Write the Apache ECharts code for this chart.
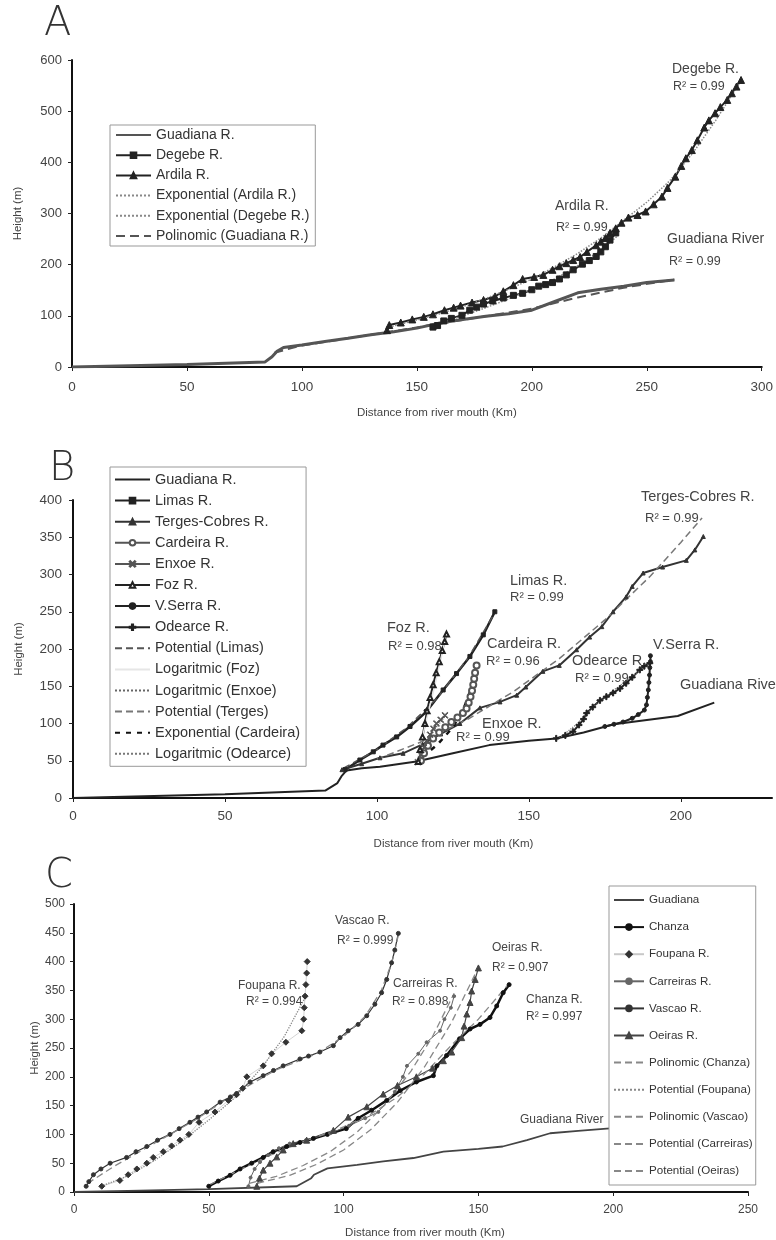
<!DOCTYPE html>
<html><head><meta charset="utf-8">
<script src="https://cdn.jsdelivr.net/npm/echarts@6/dist/echarts.min.js"></script>
<style>html,body{margin:0;padding:0;background:#fff}#c{width:776px;height:1240px}</style>
</head><body><div id="c"></div>
<script>
// ---------- Panel A data [km, m] ----------
const aGuadiana = [[0,0],[20,2],[50,5],[84,10],[87,20],[89,30],[92,38],[100,43],[110,50],[120,56],[130,63],[140,69],[150,76],[160,86],[170,93],[180,99],[190,104],[200,111],[210,128],[220,145],[230,152],[240,158],[250,165],[262,170]];
const aDegebe = [[157,78],[159,81],[161.7,90],[165,95],[169.6,101],[173,111],[176,117],[179,123],[183,129],[187.6,135],[192,140],[196,144],[200,151],[203,158],[206,161],[209,165],[212,172],[215,180],[218,190],[222,201],[225,208],[228,216],[230,225],[232,235],[234,248],[236.5,262]];
const aArdila = [[137,72],[138,82],[143,87],[148,93],[153,98],[157,103],[162,111],[166,116],[169,120],[174,126],[179,131],[184,138],[187.6,148],[192,160],[196,172],[201,176],[205,180],[209,190],[212,197],[215,203],[218,209],[221,215],[224,225],[228,238],[230,245],[232,252],[234,262],[236.5,271],[239,282],[242,292],[246,297],[249.5,304],[253,318],[256.6,333],[259,350],[262.4,372],[265,393],[267,408],[269.6,424],[272,443],[275,468],[277,482],[279.7,496],[282,508],[285,522],[287,535],[289,548],[291,561]];
const aExpArdila = [[138,78],[150,92],[160,104],[170,118],[180,134],[190,152],[200,172],[210,196],[220,222],[230,252],[240,287],[250,322],[260,364],[270,418],[280,482],[291,560]];
const aExpDegebe = [[157,82],[170,100],[180,116],[190,133],[200,152],[210,172],[220,198],[230,228],[237,255]];
const aPolGuadiana = [[88,28],[100,42],[120,56],[140,70],[160,85],[180,99],[200,114],[220,136],[240,155],[262,171]];

// ---------- Panel B data ----------
const bGuadiana = [[0,0],[20,2],[50,5],[83,10],[87,20],[88.3,29],[90,37],[95,40],[101,42],[113,49],[125,60],[137,71],[150,77],[159,80],[168,88],[178,99],[199,110],[211,128]];
const bLimas = [[89.5,38],[94.4,51],[98.8,62],[102,71],[106.5,82],[110.9,96],[116.3,116],[121.8,145],[126.2,167],[130.6,190],[135,219],[138.8,250]];
const bTerges = [[88.5,38],[95,46],[101,54],[108.6,60],[115,72],[121,86],[127.3,100],[133.9,121],[140.5,129],[146,138],[149,149],[154.6,170],[160,178],[165.7,199],[170,216],[174,230],[177.7,250],[182,270],[184,284],[187.6,302],[194,310],[201.8,319],[204.6,333],[207.4,351]];
const bCardeira = [[114.5,50],[115.5,60],[116.8,70],[118.5,80],[120.5,88],[122.5,95],[124.5,102],[126.5,108],[128.3,114],[129.5,120],[130.2,128],[130.8,136],[131.3,144],[131.7,152],[132,160],[132.3,168],[132.8,178]];
const bEnxoe = [[113.5,48],[114.5,58],[115.5,68],[116.5,77],[117.5,85],[118.6,93],[119.6,100],[121,105],[122.4,111]];
const bFoz = [[113.6,49],[114.2,65],[115,82],[115.8,100],[116.5,117],[117.5,135],[118.5,152],[119.5,168],[120.5,183],[121.5,198],[122.3,210],[122.9,220]];
const bVSerra = [[175,96],[178,99],[181,102],[184,107],[186,112],[188,118],[188.7,125],[189,135],[189.3,145],[189.5,155],[189.7,165],[189.8,175],[190,183],[190,191]];
const bOdearce = [[159,80],[162,84],[164.5,89],[166.5,98],[168,106],[169,114],[171,122],[173.4,131],[175.5,136],[177.7,141],[180,147],[182,154],[184,162],[186.5,172],[188,177],[189.8,181]];
const bPotLimas = [[89,40],[100,65],[110,95],[120,135],[130,188],[139,250]];
const bLogFoz = [[113,45],[116,100],[119,150],[123,222]];
const bLogEnxoe = [[113.5,50],[116,72],[119,92],[122.5,110]];
const bPotTerges = [[100,52],[115,76],[130,106],[145,143],[160,187],[175,239],[190,298],[200,343],[207,376]];
const bExpCardeira = [[115,55],[120,72],[125,95],[128,115],[130,135],[132,160],[133,178]];
const bLogOdearce = [[160,80],[166,100],[172,125],[178,145],[184,163],[190,182]];

// ---------- Panel C data ----------
const cGuadiana = [[0,0],[20,2],[50,5],[82.6,10],[88,24],[89,30],[94,41],[105,47],[114.7,53],[125.9,59],[137,70],[150,75],[159,79],[168,90],[176.6,102],[187,106],[197.6,110],[210,113]];
const cChanza = [[50,10],[53.5,19],[57.9,29],[61.6,40],[65.9,50],[70.2,60],[73.9,70],[78.9,79],[83.8,86],[88.8,93],[94,100],[101,110],[105.4,128],[110.4,142],[116,159],[121,176],[127,191],[133.3,202],[134.6,219],[138.2,237],[143,266],[146.9,283],[150.6,291],[154.3,303],[156.8,323],[159.2,346],[161.4,360]];
const cFoupana = [[10.3,10],[17,20],[20.1,30],[23.3,40],[27,50],[29.4,60],[33.1,70],[36.2,80],[39.3,90],[42.6,100],[46.4,121],[52.3,139],[57.3,159],[60.3,169],[62.6,180],[64.1,200],[70.2,219],[73.3,240],[78.6,260],[84.5,280],[85.2,300],[85.4,320],[85.7,340],[86,360],[86.3,380],[86.5,400]];
const cCarreiras = [[64.7,10],[65.5,25],[67,40],[69,52],[72,64],[76,76],[80,84],[86,90],[95,102],[102,115],[108,128],[112.9,139],[119,174],[122,200],[123.5,219],[127.7,240],[130.8,260],[135.8,280],[137.4,300],[139.8,320],[141,340]];
const cVascao = [[4.5,10],[5.5,18],[7.2,30],[10,40],[13.4,50],[19.5,60],[23,70],[27,79],[31,90],[35.6,100],[39,110],[43,121],[46,130],[49.2,139],[54.2,156],[58,165],[60.3,171],[65.3,191],[70.2,202],[74,211],[77.6,219],[83.8,231],[87,236],[91.2,243],[96.2,254],[98.7,268],[101.7,280],[105.4,291],[108.6,306],[111.6,326],[114.1,346],[116,369],[117.8,398],[119,420],[120.3,449]];
const cOeiras = [[67.8,10],[68.8,24],[70.2,38],[72.7,50],[75.2,61],[77.6,73],[81.3,84],[86.3,90],[96.2,107],[101.7,130],[108.6,148],[114.7,170],[120,185],[127,200],[133,215],[137,228],[140.1,243],[143.8,268],[144.7,288],[145.7,309],[146.9,329],[147.5,349],[148.8,369],[150,389]];
const cPolChanza = [[50,12],[60,35],[70,58],[80,78],[90,96],[100,113],[110,135],[120,165],[130,205],[140,255],[150,300],[161,360]];
const cPotFoupana = [[10,10],[20,28],[30,55],[40,88],[50,125],[60,165],[70,218],[78,270],[86,340]];
const cPolVascao = [[5,15],[15,45],[30,85],[45,125],[60,172],[75,212],[90,240],[100,270],[108,305],[114,350],[118,400],[120.5,450]];
const cPotCarreiras = [[65,15],[75,27],[85,46],[95,70],[105,104],[115,150],[125,210],[133,270],[141,345]];
const cPotOeiras = [[68,15],[80,29],[90,48],[100,73],[110,108],[120,156],[130,217],[140,294],[150,390]];

// ---------- axis ticks ----------
const aXTicks = {min:0,max:300,interval:50}, aYTicks = {min:0,max:600,interval:100};
const bXTicks = {min:0,max:230,interval:50}, bYTicks = {min:0,max:400,interval:50};
const cXTicks = {min:0,max:250,interval:50}, cYTicks = {min:0,max:500,interval:50};

const FF = 'Liberation Sans, Arial, sans-serif';
const PLUS = 'path://M4,0H6V4H10V6H6V10H4V6H0V4H4Z';
const XMARK = 'path://M0,1L1,0L5,4L9,0L10,1L6,5L10,9L9,10L5,6L1,10L0,9L4,5Z';
const CLEAR = 'rgba(0,0,0,0)';

function S(name, data, idx, o) {
  o = o || {};
  const mc = o.symbol ? (o.mcolor || o.color || '#222') : CLEAR;
  return {
    type:'line', name:name, data:data, xAxisIndex:idx, yAxisIndex:idx,
    symbol:o.symbol || 'circle', symbolSize:o.size || 5, showSymbol: !!o.symbol,
    lineStyle:{color:o.color||'#222', width:o.width||2, type:o.type||'solid'},
    itemStyle:{color:mc, borderColor:mc, borderWidth:1},
    z:o.z||2, animation:false, silent:true
  };
}

const series = [
  S('Guadiana R.', aGuadiana, 0, {color:'#555', width:3}),
  S('Degebe R.', aDegebe, 0, {color:'#222', width:2, symbol:'rect', size:6}),
  S('Ardila R.', aArdila, 0, {color:'#222', width:2, symbol:'triangle', size:7}),
  S('Exponential (Ardila R.)', aExpArdila, 0, {color:'#888', width:1.5, type:'dotted'}),
  S('Exponential (Degebe R.)', aExpDegebe, 0, {color:'#888', width:1.5, type:'dotted'}),
  S('Polinomic (Guadiana R.)', aPolGuadiana, 0, {color:'#555', width:2, type:[9,5]}),

  S('Guadiana R. ', bGuadiana, 1, {color:'#222', width:2}),
  S('Limas R.', bLimas, 1, {color:'#222', width:2.5, symbol:'rect', size:4}),
  S('Terges-Cobres R.', bTerges, 1, {color:'#333', width:2, symbol:'triangle', size:4}),
  S('Cardeira R.', bCardeira, 1, {color:'#555', width:1.2, symbol:'emptyCircle', size:6}),
  S('Enxoe R.', bEnxoe, 1, {color:'#555', width:1.2, symbol:XMARK, size:6}),
  S('Foz R.', bFoz, 1, {color:'#222', width:2, symbol:'emptyTriangle', size:5}),
  S('V.Serra R.', bVSerra, 1, {color:'#222', width:2, symbol:'circle', size:4}),
  S('Odearce R.', bOdearce, 1, {color:'#222', width:2, symbol:PLUS, size:6}),
  S('Potential (Limas)', bPotLimas, 1, {color:'#555', width:1.5, type:[7,4]}),
  S('Logaritmic (Foz)', bLogFoz, 1, {color:'#e6e6e6', width:1.5}),
  S('Logaritmic (Enxoe)', bLogEnxoe, 1, {color:'#666', width:1.2, type:'dotted'}),
  S('Potential (Terges)', bPotTerges, 1, {color:'#777', width:1.5, type:[7,4]}),
  S('Exponential (Cardeira)', bExpCardeira, 1, {color:'#111', width:2.5, type:[5,6]}),
  S('Logaritmic (Odearce)', bLogOdearce, 1, {color:'#777', width:1.2, type:'dotted'}),

  S('Guadiana', cGuadiana, 2, {color:'#444', width:1.8}),
  S('Chanza', cChanza, 2, {color:'#111', width:2.5, symbol:'circle', size:4}),
  S('Foupana R.', cFoupana, 2, {color:'#c8c8c8', width:0.8, symbol:'diamond', size:6, mcolor:'#333'}),
  S('Carreiras R.', cCarreiras, 2, {color:'#666', width:1, symbol:'circle', size:3}),
  S('Vascao R.', cVascao, 2, {color:'#333', width:1.2, symbol:'circle', size:4}),
  S('Oeiras R.', cOeiras, 2, {color:'#444', width:1.2, symbol:'triangle', size:6}),
  S('Polinomic (Chanza)', cPolChanza, 2, {color:'#888', width:1.3, type:[7,4]}),
  S('Potential (Foupana)', cPotFoupana, 2, {color:'#888', width:1.3, type:'dotted'}),
  S('Polinomic (Vascao)', cPolVascao, 2, {color:'#888', width:1.3, type:[7,4]}),
  S('Potential (Carreiras)', cPotCarreiras, 2, {color:'#888', width:1.3, type:[7,4]}),
  S('Potential (Oeiras)', cPotOeiras, 2, {color:'#888', width:1.3, type:[7,4]})
];

const namesA = series.slice(0,6).map(s=>s.name);
const namesB = series.slice(6,20).map(s=>s.name);
const namesC = series.slice(20).map(s=>s.name);

function xAx(idx, t, gap, lblMargin, fs, hideMax, shift) {
  return Object.assign({type:'value', gridIndex:idx,
    name:'Distance from river mouth (Km)', nameLocation:'middle', nameGap:gap, nameMoveOverlap:false,
    nameTextStyle:{fontSize:11.5, color:'#444', fontFamily:FF, padding:[0,0,0,shift]},
    axisLine:{show:true, onZero:false, lineStyle:{color:'#111', width:2}},
    axisTick:{show:true, length:4, lineStyle:{color:'#222', width:1}},
    axisLabel:{color:'#444', fontSize:fs, fontFamily:FF, margin:lblMargin, showMaxLabel: !hideMax},
    splitLine:{show:false}}, t);
}
function yAx(idx, t, gap, lblMargin, fs) {
  return Object.assign({type:'value', gridIndex:idx,
    name:'Height (m)', nameLocation:'middle', nameGap:gap, nameMoveOverlap:false,
    nameTextStyle:{fontSize:11.5, color:'#444', fontFamily:FF},
    axisLine:{show:true, lineStyle:{color:'#111', width:2}},
    axisTick:{show:true, length:4, lineStyle:{color:'#222', width:1}},
    axisLabel:{color:'#444', fontSize:fs, fontFamily:FF, margin:lblMargin},
    splitLine:{show:false}}, t);
}
function leg(names, left, top, fs, gap, pad, iw) {
  return {data:names, orient:'vertical', left:left, top:top, itemWidth:iw, itemHeight:7, itemGap:gap,
    padding:pad, borderColor:'#999', borderWidth:1, backgroundColor:'#fff', selectedMode:false,
    formatter:n=>n.trim(), textStyle:{fontSize:fs, color:'#333', fontFamily:FF, lineHeight:14}, z:10};
}
function txt(t, x, cy, fs) {
  return {type:'text', left:x, top:Math.round(cy - fs*0.6), z:20, silent:true,
    style:{text:t, fontSize:fs, fontFamily:FF, fill:'#444'}};
}
function big(t, x, y) {
  return {type:'text', left:x, top:y, z:20, silent:true,
    style:{text:t, fontSize:40, fontFamily:'DejaVu Sans, sans-serif', fontWeight:200, fill:'#333'}};
}

const option = {
  backgroundColor:'#fff', animation:false,
  grid:[
    {left:72, right:9, top:60, bottom:873},
    {left:73, right:4, top:500, bottom:442},
    {left:74, right:28, top:904, bottom:46}
  ],
  xAxis:[ xAx(0,aXTicks,40,13,13.5,false,40), xAx(1,bXTicks,40,11,13.5,true,62), xAx(2,cXTicks,35,12,12,false,28) ],
  yAxis:[ yAx(0,aYTicks,48,10,13), yAx(1,bYTicks,48,11,13.5), yAx(2,cYTicks,33,9,12) ],
  legend:[
    leg(namesA, 110, 125, 14, 6.2, [3,6,3,5], 35),
    leg(namesB, 110, 467, 14.5, 6.1, [5,6,5,4], 35),
    leg(namesC, 609, 886, 11.6, 13.1, [7,3,7,4], 30)
  ],
  graphic:[
    big('A', 44, 5), big('B', 49, 450), big('C', 45, 857),
    txt('Degebe R.', 672, 70, 14), txt('R² = 0.99', 673, 87, 12.5),
    txt('Ardila R.', 555, 207, 14), txt('R² = 0.99', 556, 228, 12.5),
    txt('Guadiana River', 667, 240, 14), txt('R² = 0.99', 669, 262, 12.5),

    txt('Terges-Cobres R.', 641, 498, 14.5), txt('R² = 0.99', 645, 520, 13),
    txt('Limas R.', 510, 582, 14.5), txt('R² = 0.99', 510, 599, 13),
    txt('Foz R.', 387, 629, 14.5), txt('R² = 0.98', 388, 648, 13),
    txt('Cardeira R.', 487, 645, 14.5), txt('R² = 0.96', 486, 663, 13),
    txt('Odearce R.', 572, 662, 14.5), txt('R² = 0.99', 575, 680, 13),
    txt('V.Serra R.', 653, 646, 14.5),
    txt('Guadiana River', 680, 686, 14.5),
    txt('Enxoe R.', 482, 725, 14.5), txt('R² = 0.99', 456, 739, 13),

    txt('Vascao R.', 335, 922, 12), txt('R² = 0.999', 337, 942, 12),
    txt('Foupana R.', 238, 987, 12), txt('R² = 0.994', 246, 1003, 12),
    txt('Carreiras R.', 393, 985, 12), txt('R² = 0.898', 392, 1003, 12),
    txt('Oeiras R.', 492, 949, 12), txt('R² = 0.907', 492, 969, 12),
    txt('Chanza R.', 526, 1001, 12), txt('R² = 0.997', 526, 1018, 12),
    txt('Guadiana River', 520, 1121, 12)
  ],
  series: series
};
const chart = echarts.init(document.getElementById('c'), null, {renderer:'canvas'});
chart.setOption(option);
</script></body></html>
